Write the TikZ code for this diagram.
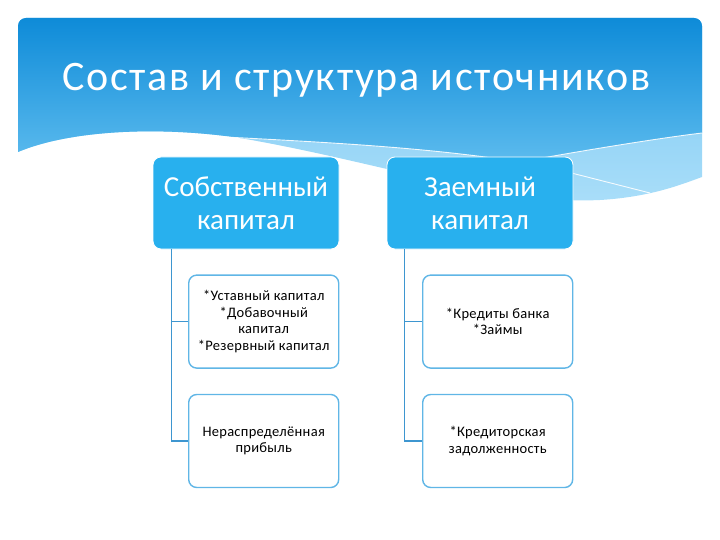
\documentclass[tikz,border=0pt]{standalone}
\usepackage{fontspec}
\setmainfont{Carlito}
\usetikzlibrary{positioning}
\definecolor{skytop}{RGB}{14,139,216}
\definecolor{skylow}{RGB}{92,187,238}
\definecolor{palehi}{RGB}{118,198,242}
\definecolor{palelo}{RGB}{170,222,249}
\definecolor{headblue}{RGB}{40,176,238}
\definecolor{edgeblue}{RGB}{96,182,230}
\definecolor{lineblue}{RGB}{62,150,208}

\begin{document}
\begin{tikzpicture}[x=1pt,y=-1pt,
topbox/.style={draw=white,line width=0.8pt,fill=headblue,rounded corners=8pt,minimum width=186pt,minimum height=92pt,text=white,align=center,font=\fontsize{29}{33}\selectfont},
subbox/.style={draw=edgeblue,line width=1.4pt,fill=white,rounded corners=8pt,minimum width=150pt,minimum height=93pt,align=center,font=\fontsize{14.5}{16.5}\selectfont\addfontfeature{LetterSpace=2}},
link/.style={draw=lineblue,line width=1.6pt},
swoosh/.style={draw=white,line width=0.9pt,opacity=0.9}]
\useasboundingbox (0,0) rectangle (720,540);

\shade [top color=palehi,bottom color=palelo]
  (18,152) .. controls (70,130) and (160,126) .. (240,138)
  .. controls (380,162) and (500,205) .. (600,200)
  .. controls (650,197) and (680,185) .. (702,177)
  [rounded corners=8pt] -- (702,18) -- (18,18) [sharp corners] -- cycle;
\shade [top color=skytop,bottom color=skylow]
  (18,152) .. controls (70,130) and (160,126) .. (240,138)
  .. controls (340,143) and (430,148) .. (520,162)
  .. controls (580,151) and (660,138) .. (702,133)
  [rounded corners=8pt] -- (702,18) -- (18,18) [sharp corners] -- cycle;
\draw [swoosh] (225,137) .. controls (340,143) and (430,148) .. (520,162)
  .. controls (580,151) and (660,138) .. (702,133);
\draw [swoosh] (540,165) -- (650,193);

\node (title) [anchor=base west,text=white,inner sep=0pt,font=\fontsize{42}{48}\selectfont\addfontfeature{LetterSpace=4}]
  at (62,91) {Состав и структура источников};

\node (own) [topbox] at (246,203) {Собственный\\капитал};
\node (loan) [topbox] at (480,203) {Заемный\\капитал};

\node (ownA) [subbox,below=25pt of own.south east,anchor=north east]
  {*Уставный капитал\\*Добавочный\\капитал\\*Резервный капитал};
\node (ownB) [subbox,below=25pt of ownA] {Нераспределённая\\прибыль};
\node (loanA) [subbox,below=25pt of loan.south east,anchor=north east]
  {*Кредиты банка\\*Займы};
\node (loanB) [subbox,below=25pt of loanA] {*Кредиторская\\задолженность};

\draw [link] ([xshift=19pt]own.south west) |- (ownA.west);
\draw [link] ([xshift=19pt]own.south west) |- (ownB.west);
\draw [link] ([xshift=18pt]loan.south west) |- (loanA.west);
\draw [link] ([xshift=18pt]loan.south west) |- (loanB.west);
\end{tikzpicture}
\end{document}
